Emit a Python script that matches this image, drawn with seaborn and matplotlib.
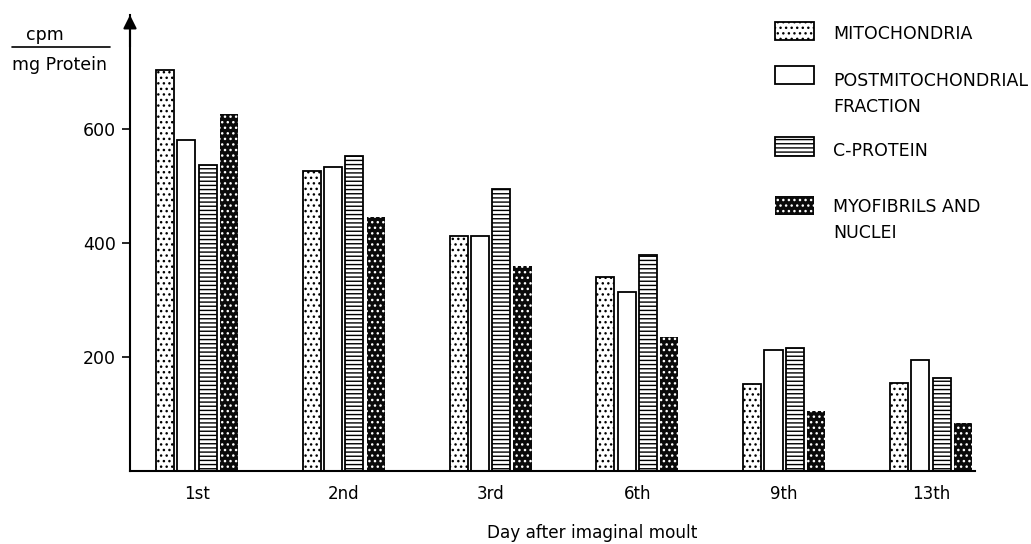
import matplotlib
matplotlib.use("Agg")
import matplotlib.pyplot as plt
from matplotlib.patches import Rectangle
from matplotlib.lines import Line2D
import seaborn as sns
import pandas as pd

days = ["1st", "2nd", "3rd", "6th", "9th", "13th"]
fractions = ["MITOCHONDRIA", "POSTMITOCHONDRIAL FRACTION", "C-PROTEIN", "MYOFIBRILS AND NUCLEI"]
legend_lines = [["MITOCHONDRIA"], ["POSTMITOCHONDRIAL", "FRACTION"],
                ["C-PROTEIN"], ["MYOFIBRILS AND", "NUCLEI"]]
mitochondria = [704, 526, 412, 340, 152, 154]
postmito = [580, 533, 412, 314, 213, 195]
c_protein = [536, 552, 495, 379, 215, 164]
myofibrils = [626, 445, 360, 235, 106, 84]
y_ticks = [200, 400, 600]

series = [mitochondria, postmito, c_protein, myofibrils]
rows = []
for f, vals in zip(fractions, series):
    for d, v in zip(days, vals):
        rows.append({"day": d, "fraction": f, "value": v})
df = pd.DataFrame(rows)

sns.set_style("white")
plt.rcParams["font.family"] = ["DejaVu Sans"]
plt.rcParams["hatch.linewidth"] = 1.0
plt.rcParams["text.color"] = "black"
plt.rcParams["xtick.color"] = "black"
plt.rcParams["ytick.color"] = "black"
plt.rcParams["axes.labelcolor"] = "black"

W, H = 1031, 544
fig = plt.figure(figsize=(W / 100, H / 100), dpi=100)
ax = fig.add_axes([130 / W, 73 / H, 845 / W, 456 / H])

sns.barplot(data=df, x="day", y="value", hue="fraction", order=days,
            hue_order=fractions, width=0.58, gap=0.15, ax=ax, legend=False)

styles = [
    dict(facecolor="white", edgecolor="black", hatch="...", linewidth=1.3),
    dict(facecolor="white", edgecolor="black", hatch="", linewidth=1.3),
    dict(facecolor="white", edgecolor="black", hatch="----", linewidth=1.3),
    dict(facecolor="#0a0a0a", edgecolor="white", hatch="...", linewidth=0),
]
for cont, st in zip(ax.containers, styles):
    for p in cont.patches:
        p.set_facecolor(st["facecolor"])
        p.set_edgecolor(st["edgecolor"])
        p.set_hatch(st["hatch"])
        p.set_linewidth(st["linewidth"])

ax.set_xlim(-0.456, 5.30)
ax.set_ylim(0, 800)
ax.set_yticks(y_ticks)
ax.set_yticklabels([str(t) for t in y_ticks], fontsize=12.5)
ax.tick_params(axis="y", direction="out", length=6, width=1.2, pad=4, left=True)
ax.tick_params(axis="x", length=0, pad=10, labelsize=12)
for s in ["top", "right"]:
    ax.spines[s].set_visible(False)
for s in ["left", "bottom"]:
    ax.spines[s].set_linewidth(1.5)
    ax.spines[s].set_color("black")
ax.set_ylabel("")
ax.set_xlabel("Day after imaginal moult", fontsize=12.2)
ax.xaxis.set_label_coords(0.547, -0.116)

ax.annotate("", xy=(0, 1.0), xytext=(0, 0.93), xycoords="axes fraction",
            arrowprops=dict(arrowstyle="-|>", color="black", lw=1.5,
                            mutation_scale=20, shrinkA=0, shrinkB=0))

# y-axis unit label
fig.text(45 / W, 1 - 35 / H, "cpm", fontsize=12.5, ha="center", va="center")
fig.add_artist(Line2D([12 / W, 110 / W], [1 - 47 / H, 1 - 47 / H],
                      color="black", lw=1.2))
fig.text(12 / W, 1 - 65 / H, "mg Protein", fontsize=12.5, ha="left", va="center")

# legend keys (box top y, box bottom y) and text line centers in pixels
box_y = [(22, 40), (66, 84), (137, 156), (196, 215)]
text_y = [[34], [81, 107], [151], [207, 233]]
for st, (y0, y1), lines, tys in zip(styles, box_y, legend_lines, text_y):
    rect = Rectangle((775 / W, 1 - y1 / H), 39 / W, (y1 - y0) / H,
                     transform=fig.transFigure, facecolor=st["facecolor"],
                     edgecolor=st["edgecolor"] if st["linewidth"] else "white",
                     hatch=st["hatch"], linewidth=st["linewidth"])
    fig.add_artist(rect)
    for line, ty in zip(lines, tys):
        fig.text(833 / W, 1 - ty / H, line, fontsize=12.5, ha="left", va="center")

fig.savefig("out.png", dpi=100)
